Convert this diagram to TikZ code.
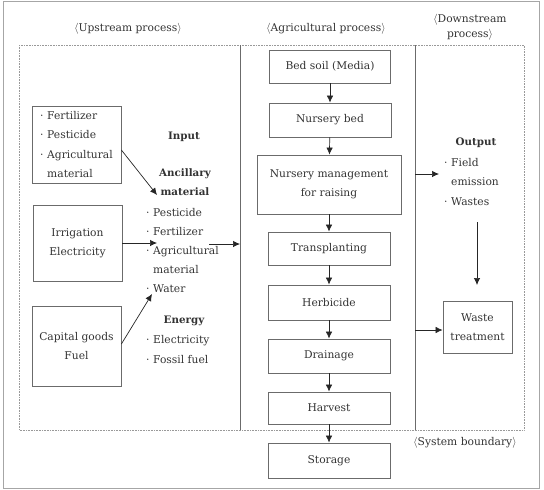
\documentclass[tikz,border=0pt]{standalone}
\usepackage{fontspec}
\setmainfont{DejaVu Serif}
\usetikzlibrary{arrows.meta}
\definecolor{ln}{gray}{0.42}
\definecolor{dl}{gray}{0.6}
\definecolor{tx}{gray}{0.2}
\newcommand{\itm}{\makebox[7pt][l]{·}}
\newcommand{\cnt}{\hspace*{7pt}}
\begin{document}
\begin{tikzpicture}[x=1pt,y=-1pt,
  every node/.style={text=tx, font=\fontsize{10.7}{19.2}\selectfont, inner sep=0pt},
  box/.style={draw=ln, line width=0.8pt, align=center},
  hd/.style={font=\fontsize{10.7}{15}\selectfont, align=center},
  bld/.style={font=\fontsize{10.3}{19.2}\selectfont\bfseries, align=center},
  lst/.style={align=left, anchor=west},
  arr/.style={draw=black!85, line width=0.7pt, -{Latex[length=7pt,width=6.5pt]}},
  sln/.style={draw=ln, line width=0.8pt},
  bnd/.style={draw=dl, line width=0.6pt, densely dotted}]
\useasboundingbox (0,0) rectangle (544,490);
% outer frame
\draw[draw=gray!70, line width=0.8pt] (3,1) rectangle (539,488);
% system boundary
\draw[bnd] (19,45) rectangle (524,430);
\coordinate (l1t) at (240,45);
\coordinate (l1b) at (240,430);
\coordinate (l2t) at (415,45);
\coordinate (l2b) at (415,430);
\draw[sln] (l1t) -- (l1b);
\draw[sln] (l2t) -- (l2b);
% headers
\node[hd] (hup) at (128,29) {$\langle$Upstream process$\rangle$};
\node[hd] (hag) at (326,29) {$\langle$Agricultural process$\rangle$};
\node[hd] (hdn) at (470,27) {$\langle$Downstream\\process$\rangle$};
\node[hd] (hsb) at (465,443) {$\langle$System boundary$\rangle$};
% agricultural process boxes
\node[box, minimum width=121pt, minimum height=33pt] (bed) at (330,66.5) {Bed soil (Media)};
\node[box, minimum width=122pt, minimum height=34pt] (nur) at (330,120) {Nursery bed};
\node[box, minimum width=144pt, minimum height=59pt] (mgt) at (329,184.5) {Nursery management\\for raising};
\node[box, minimum width=122pt, minimum height=33pt] (trn) at (329,248.5) {Transplanting};
\node[box, minimum width=122pt, minimum height=35pt] (hrb) at (329,302.5) {Herbicide};
\node[box, minimum width=122pt, minimum height=34pt] (drn) at (329,356) {Drainage};
\node[box, minimum width=122pt, minimum height=32pt] (hrv) at (329,408) {Harvest};
\node[box, minimum width=122pt, minimum height=35pt] (sto) at (329,460.5) {Storage};
\draw[arr] (bed) -- (nur);
\draw[arr] (nur) -- (mgt);
\draw[arr] (mgt) -- (trn);
\draw[arr] (trn) -- (hrb);
\draw[arr] (hrb) -- (drn);
\draw[arr] (drn) -- (hrv);
\draw[arr] (hrv) -- (sto);
% upstream boxes
\node[box, minimum width=89pt, minimum height=77pt, align=left, inner xsep=5pt] (b1) at (76.5,144.5)
  {\itm Fertilizer\\\itm Pesticide\\\itm Agricultural\\\cnt material};
\node[box, minimum width=89pt, minimum height=76pt] (b2) at (77.5,243) {Irrigation\\Electricity};
\node[box, minimum width=89pt, minimum height=80pt] (b3) at (76.5,346) {Capital goods\\Fuel};
% input column
\node[bld] (inp) at (184,137) {Input};
\node[bld] (anc) at (185,182.5) {Ancillary\\material};
\node[lst] (anl) at (146,250.5) {\itm Pesticide\\\itm Fertilizer\\\itm Agricultural\\\cnt material\\\itm Water};
\node[bld] (eng) at (184,321) {Energy};
\node[lst] (enl) at (146,349.5) {\itm Electricity\\\itm Fossil fuel};
\coordinate (a1) at (157,195);
\coordinate (a2) at (157,243);
\coordinate (a3) at (152,294);
\draw[arr] (b1.east |- 0,150) -- (a1);
\draw[arr] (b2.east |- 0,243) -- (a2);
\draw[arr] (b3.east |- 0,344) -- (a3);
\coordinate (a4s) at (209,244);
\coordinate (a4e) at (240,244);
\draw[arr] (a4s) -- (a4e);
% downstream
\node[bld] (out) at (476,143) {Output};
\node[lst] (oul) at (444,182) {\itm Field\\\cnt emission\\\itm Wastes};
\node[box, minimum width=69pt, minimum height=52pt] (wst) at (477.5,327) {Waste\\treatment};
\coordinate (o1s) at (415,174);
\coordinate (o1e) at (439,174);
\draw[arr] (o1s) -- (o1e);
\coordinate (o2s) at (415,330);
\draw[arr] (o2s) -- (wst.west |- 0,330);
\coordinate (o3s) at (477,222);
\coordinate (o3e) at (477,285);
\draw[arr] (o3s) -- (o3e);
\end{tikzpicture}
\end{document}
